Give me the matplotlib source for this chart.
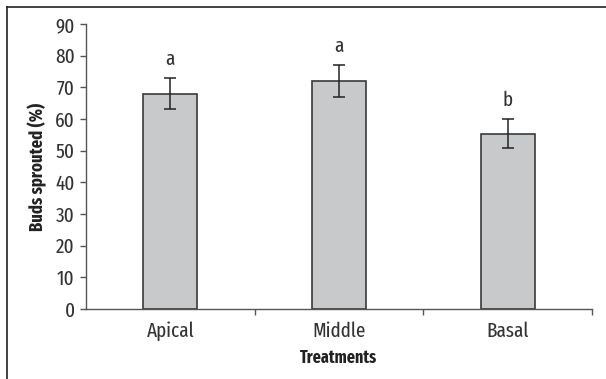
import numpy as np
import matplotlib
matplotlib.use("Agg")
import matplotlib.pyplot as plt
from matplotlib.lines import Line2D

plt.rcParams['font.family'] = ['Fira Sans Extra Condensed', 'DejaVu Sans']

# data
treatments = ['Apical', 'Middle', 'Basal']
sprouted = [68.0, 72.0, 55.3]
err = [5.0, 5.0, 4.6]
letters = ['a', 'a', 'b']

fig = plt.figure(figsize=(6.06, 3.79), dpi=100)
ax = fig.add_axes([86/606, 1-309/379, 506/606, 285/379])

x = np.arange(len(treatments))
ax.bar(x, sprouted, width=0.32, color='#c8c9cb', edgecolor='#3a3a3a', linewidth=1.2, zorder=2)
ax.errorbar(x, sprouted, yerr=err, fmt='none', ecolor='#222222', elinewidth=1.1,
            capsize=4, capthick=1.1, zorder=3)
for xi, v, e, l in zip(x, sprouted, err, letters):
    ax.text(xi, v + e + 2.8, l, ha='center', va='bottom', fontsize=15,
            color='#333333')

ax.set_xlim(-0.5, 2.5)
ax.set_ylim(0, 90)
ax.set_yticks(range(0, 91, 10))
ax.set_xticks(x)
ax.set_xticklabels(treatments)
ax.set_xticks([0.5, 1.5, 2.5], minor=True)
ax.tick_params(axis='x', which='major', length=0, pad=9, labelsize=15, labelcolor='#333333')
ax.tick_params(axis='x', which='minor', length=4, width=1, color='#555555', direction='out')
ax.tick_params(axis='y', length=4, width=1, color='#555555', labelsize=15, labelcolor='#333333', pad=4)

for s in ['top', 'right']:
    ax.spines[s].set_visible(False)
for s in ['left', 'bottom']:
    ax.spines[s].set_color('#555555')
    ax.spines[s].set_linewidth(1.0)

ax.set_ylabel('Buds sprouted (%)', fontsize=13, fontweight='bold', color='#222222', labelpad=6)
ax.set_xlabel('Treatments', fontsize=12.5, fontweight='bold', color='#222222', labelpad=6)

# outer frame (only top and left edges show in the reference)
fig.add_artist(Line2D([7/606, 7/606], [0, 1-7/379], transform=fig.transFigure, color='#222222', lw=1.2))
fig.add_artist(Line2D([7/606, 1], [1-7/379, 1-7/379], transform=fig.transFigure, color='#222222', lw=1.2))

fig.savefig('out.png', dpi=100)
